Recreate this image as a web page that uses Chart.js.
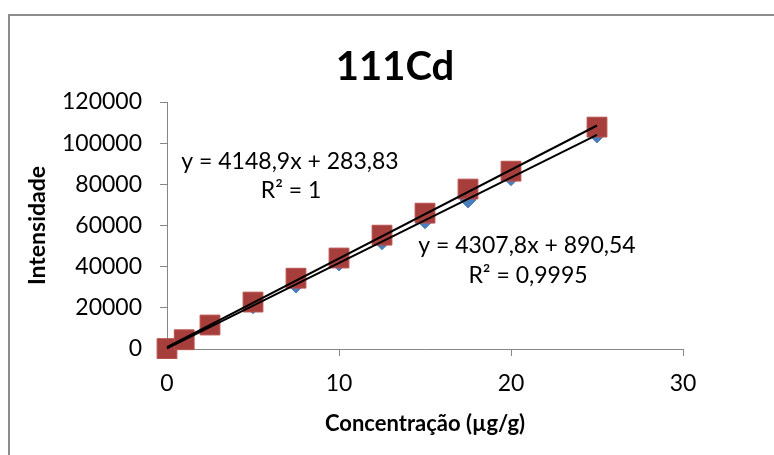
<!DOCTYPE html>
<html>
<head>
<meta charset="utf-8">
<script src="https://cdn.jsdelivr.net/npm/chart.js@4.4.1/dist/chart.umd.min.js"></script>
<style>
  html, body { margin: 0; padding: 0; background: #fff; }
  #wrap { width: 774px; height: 455px; }
</style>
</head>
<body>
<div id="wrap"><canvas id="grafico" width="774" height="455"></canvas></div>
<script>
// ===== Dados da curva de calibração 111Cd =====
const concentracao = [0, 1, 2.5, 5, 7.5, 10, 12.5, 15, 17.5, 20, 25];
const intensidadeAzul = [250, 4400, 10650, 21000, 31100, 41800, 52100, 62300, 72400, 83200, 104000];
const intensidadeVermelho = [200, 4500, 11650, 22800, 34400, 44200, 55300, 66000, 77700, 86400, 107800];

// extremos das linhas de tendência (x = 0 e x = 25)
const tendenciaX = [0, 25];
const tendenciaAzul = [284, 104006];
const tendenciaVermelho = [891, 108586];

const xTicks = [0, 10, 20, 30];
const yTicks = [0, 20000, 40000, 60000, 80000, 100000, 120000];

const rotulos = [
  { texto: 'y = 4148,9x + 283,83', x: 290, y: 162 },
  { texto: 'R² = 1', x: 291, y: 191 },
  { texto: 'y = 4307,8x + 890,54', x: 527, y: 246 },
  { texto: 'R² = 0,9995', x: 528, y: 276 }
];

function pares(xs, ys) {
  return xs.map((x, i) => ({ x: x, y: ys[i] }));
}

const corEixo = '#868686';

// moldura, título e equações desenhados por cima do canvas
const extras = {
  id: 'extras',
  beforeDraw(chart) {
    const ctx = chart.ctx;
    ctx.save();
    ctx.fillStyle = '#fff';
    ctx.fillRect(0, 0, chart.width, chart.height);
    ctx.strokeStyle = '#8c8c8c';
    ctx.lineWidth = 2;
    ctx.strokeRect(9, 15, 820, 520);
    ctx.restore();
  },
  afterDraw(chart) {
    const ctx = chart.ctx;
    ctx.save();
    ctx.fillStyle = '#000';
    ctx.textAlign = 'center';
    ctx.textBaseline = 'middle';
    ctx.font = 'bold 40px Lato';
    ctx.fillText('111Cd', 395, 67);
    ctx.font = '23px Lato';
    rotulos.forEach(r => ctx.fillText(r.texto, r.x, r.y));
    ctx.restore();
  }
};

const ctx = document.getElementById('grafico').getContext('2d');
new Chart(ctx, {
  type: 'scatter',
  data: {
    datasets: [
      {
        type: 'line',
        data: pares(tendenciaX, tendenciaAzul),
        borderColor: '#000',
        borderWidth: 2,
        pointRadius: 0,
        fill: false,
        clip: false,
        order: 0
      },
      {
        type: 'line',
        data: pares(tendenciaX, tendenciaVermelho),
        borderColor: '#000',
        borderWidth: 2,
        pointRadius: 0,
        fill: false,
        clip: false,
        order: 0
      },
      {
        data: pares(concentracao, intensidadeVermelho),
        pointStyle: 'rect',
        pointRadius: 14,
        backgroundColor: '#A63F3C',
        borderColor: '#B9504C',
        borderWidth: 1,
        clip: false,
        order: 1
      },
      {
        data: pares(concentracao, intensidadeAzul),
        pointStyle: 'rectRot',
        pointRadius: 8,
        backgroundColor: '#4A7EBB',
        borderColor: '#4A7EBB',
        borderWidth: 1,
        clip: false,
        order: 2
      }
    ]
  },
  options: {
    responsive: false,
    animation: false,
    devicePixelRatio: 1,
    layout: { padding: { left: 0, right: 91, top: 102, bottom: 0 } },
    plugins: {
      legend: { display: false },
      tooltip: { enabled: false },
      title: { display: false }
    },
    scales: {
      x: {
        type: 'linear',
        min: 0,
        max: 30,
        afterBuildTicks: s => { s.ticks = xTicks.map(v => ({ value: v })); },
        afterFit: s => { s.height = 106; },
        ticks: { color: '#000', font: { family: 'Lato', size: 23 }, padding: 14 },
        grid: { drawOnChartArea: false, drawTicks: true, tickLength: 7, color: corEixo },
        border: { color: corEixo, width: 1 },
        title: {
          display: true,
          text: 'Concentração (µg/g)',
          color: '#000',
          font: { family: 'Lato', size: 22, weight: 'bold' },
          padding: { top: 0, bottom: 18 }
        }
      },
      y: {
        type: 'linear',
        min: 0,
        max: 120000,
        afterBuildTicks: s => { s.ticks = yTicks.map(v => ({ value: v })); },
        afterFit: s => { s.width = 167; },
        ticks: {
          color: '#000',
          font: { family: 'Lato', size: 23 },
          padding: 18,
          callback: v => String(v)
        },
        grid: { drawOnChartArea: false, drawTicks: true, tickLength: 7, color: corEixo },
        border: { color: corEixo, width: 1 },
        title: {
          display: true,
          text: 'Intensidade',
          color: '#000',
          font: { family: 'Lato', size: 23, weight: 'bold' },
          padding: { top: 24, bottom: 0 }
        }
      }
    }
  },
  plugins: [extras]
});
</script>
</body>
</html>
